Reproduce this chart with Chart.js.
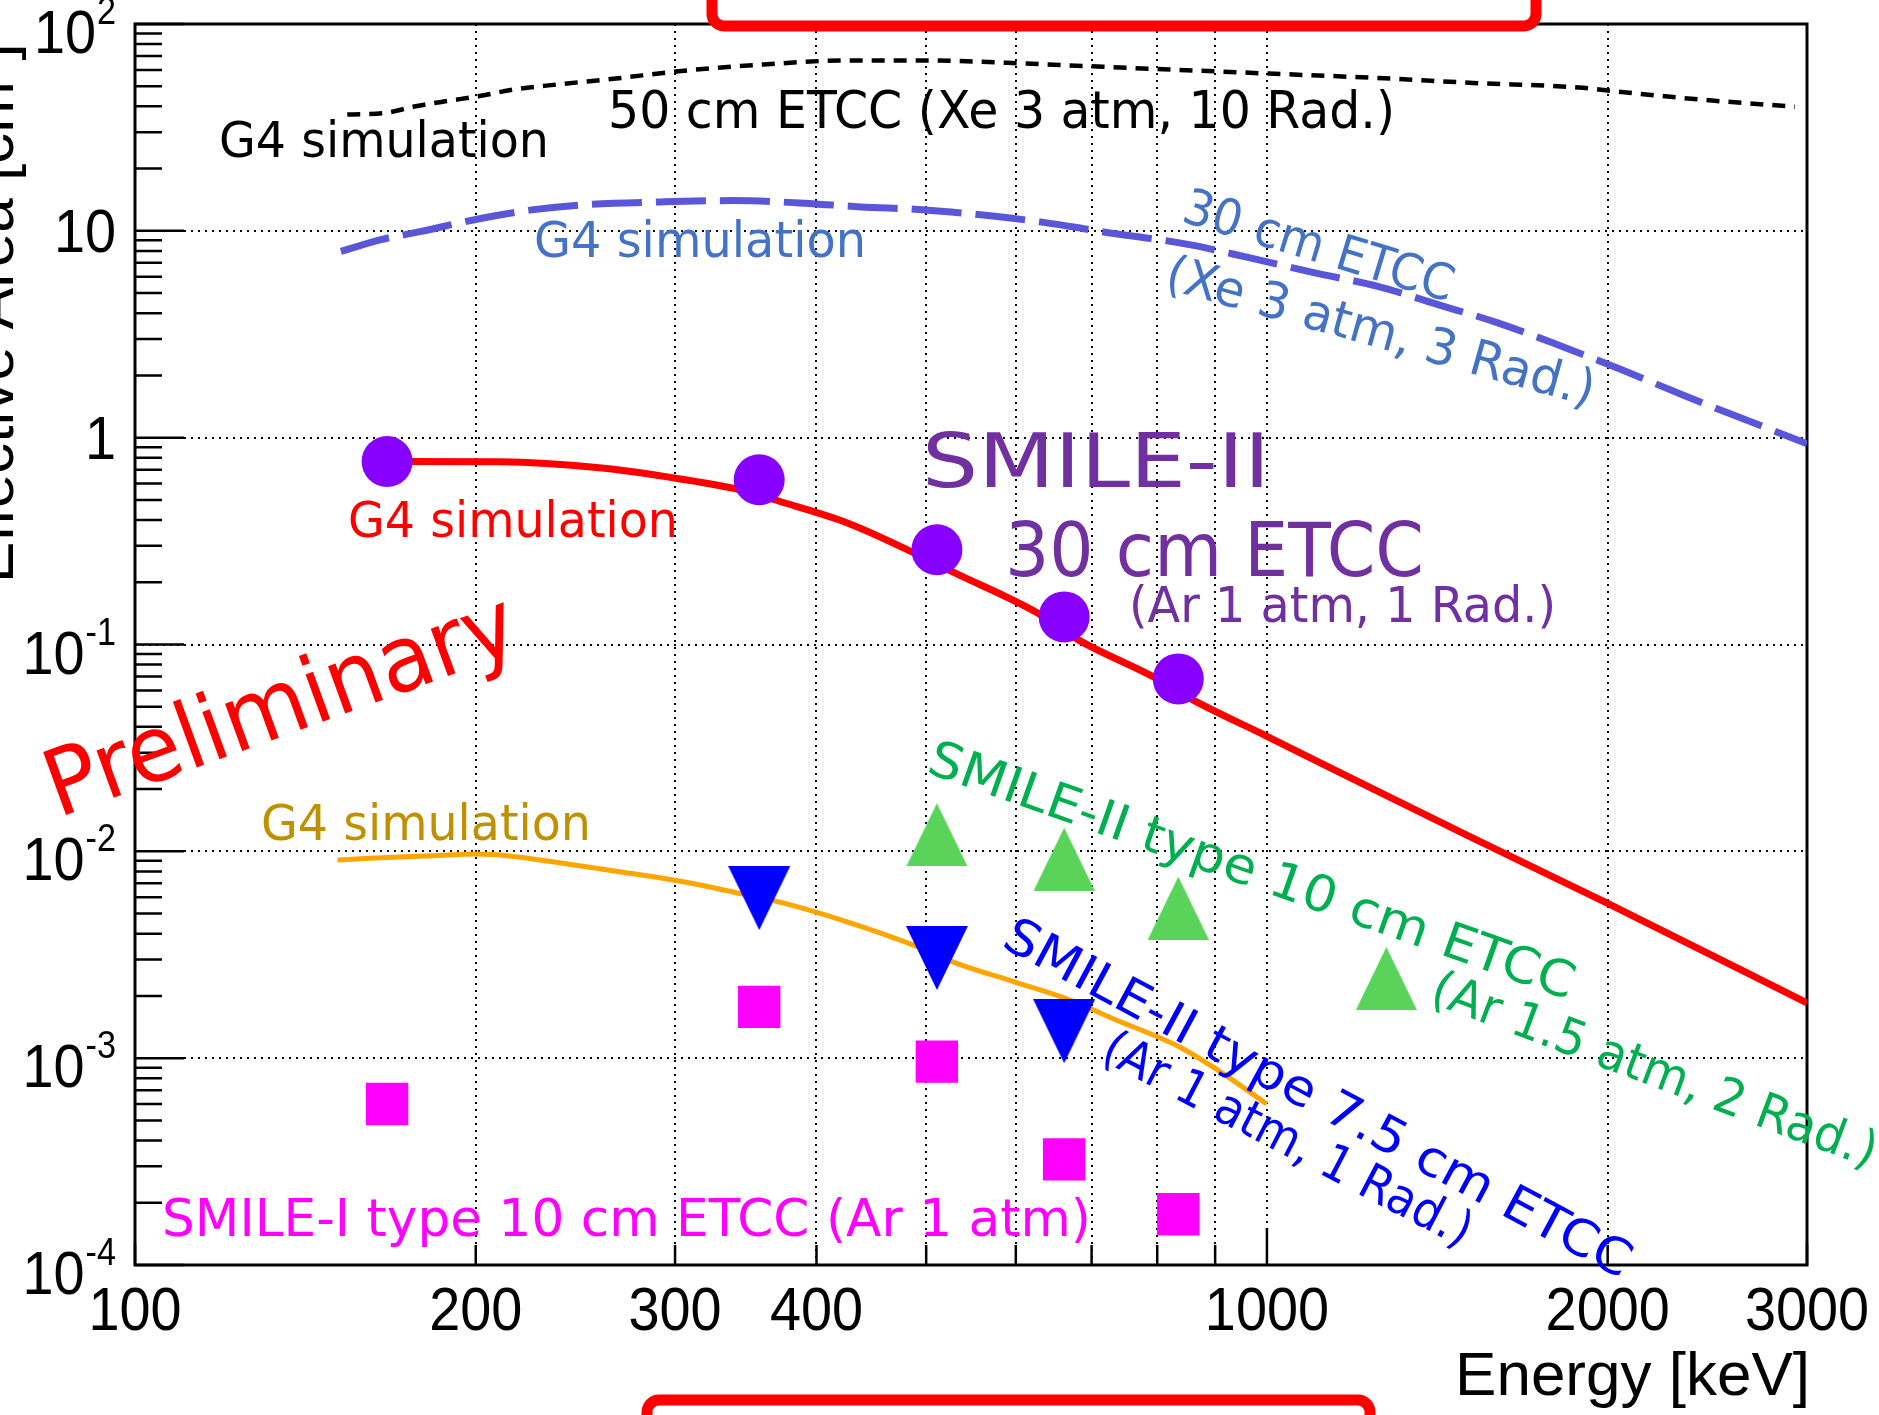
<!DOCTYPE html>
<html lang="en">
<head>
<meta charset="utf-8">
<title>Effective area - ETCC</title>
<script src="https://cdn.jsdelivr.net/npm/chart.js@4.4.1/dist/chart.umd.min.js"></script>
<style>
  html, body { margin: 0; padding: 0; background: #fff; overflow: hidden; }
  canvas { display: block; }
</style>
</head>
<body>
<canvas id="graphique-aire" width="1879" height="1415"></canvas>
<script>
/* global Chart */

// Points mesurés (énergie en keV, aire effective en cm2)
const energiesMesures = [167, 356, 511, 662, 835];
const smile2_30cm = [0.767, 0.626, 0.287, 0.136, 0.0682];
const smile1_10cm = [0.0006, 0.00177, 0.000962, 0.000324, 0.000176];
const energiesType10 = [511, 662, 835, 1275];
const smile2_type10 = [0.01205, 0.00918, 0.00532, 0.00243];
const energiesType75 = [356, 511, 662];
const smile2_type75 = [0.00594, 0.00305, 0.00135];

// Courbes de simulation G4
const simRougeE = [167, 210, 257, 304, 342, 372, 426, 488, 530, 627, 682, 794, 860, 1000, 1500, 2000, 3000];
const simRougeA = [0.767, 0.764, 0.715, 0.63, 0.56, 0.49, 0.387, 0.277, 0.222, 0.142, 0.105, 0.0697, 0.054, 0.036, 0.012, 0.0056, 0.00185];
const simOrangeE = [151, 161, 181, 201, 214, 241, 268, 305, 342, 375, 421, 492, 532, 598, 663, 736, 838, 905, 1000];
const simOrangeA = [0.00908, 0.00925, 0.0095, 0.0097, 0.0095, 0.00868, 0.00796, 0.00713, 0.00626, 0.0056, 0.00465, 0.00345, 0.00287, 0.00234, 0.00195, 0.00153, 0.00113, 0.000875, 0.0006];
const simXe30E = [152, 165, 179, 203, 225, 250, 292, 338, 386, 438, 496, 567, 635, 712, 854, 964, 1100, 1253, 1416, 1597, 1823, 2058, 2345, 2648, 3000];
const simXe30A = [7.96, 9.07, 9.94, 11.54, 12.66, 13.39, 13.8, 14.0, 13.65, 13.05, 12.66, 11.85, 10.99, 9.94, 8.58, 7.42, 6.28, 5.39, 4.4, 3.6, 2.76, 2.13, 1.585, 1.22, 0.935];
const simXe50E = [154, 167, 177, 188, 201, 216, 236, 266, 302, 359, 424, 500, 590, 696, 823, 1004, 1245, 1521, 1886, 2013, 2418, 2927];
const simXe50A = [36.5, 37.3, 40.0, 42.3, 44.7, 48.2, 51.0, 54.5, 59.1, 63.7, 66.6, 66.6, 64.9, 62.5, 60.2, 57.6, 54.9, 51.9, 49.3, 47.5, 43.1, 39.8];

// Graduations
const ticksX = [100, 200, 300, 400, 500, 600, 700, 800, 900, 1000, 2000, 3000];
const labelsX = ["100", "200", "300", "400", "", "", "", "", "", "1000", "2000", "3000"];
const ticksY = [1e-4, 1e-3, 1e-2, 1e-1, 1, 10, 100];
const labelsYBase = ["10", "10", "10", "10", "1", "10", "10"];
const labelsYExp = ["-4", "-3", "-2", "-1", "", "", "2"];

const POLICE_AXE = '"Liberation Sans", Arial, Helvetica, sans-serif';
const POLICE_MAIN = '"Comic Sans MS", "DejaVu Sans", sans-serif';

// Textes ajoutés sur la figure (position en pixels, ligne de base à gauche)
const annotations = [
  { texte: "G4 simulation", x: 219, y: 157, largeur: 330, taille: 50, couleur: "#000000" },
  { texte: "50 cm ETCC (Xe 3 atm, 10 Rad.)", x: 608, y: 128, largeur: 787, taille: 52, couleur: "#000000" },
  { texte: "G4 simulation", x: 534, y: 257, largeur: 332, taille: 50, couleur: "#4472c4" },
  { texte: "30 cm ETCC", x: 1180, y: 221, largeur: 280, taille: 50, couleur: "#4472c4", angle: 16.8 },
  { texte: "(Xe 3 atm, 3 Rad.)", x: 1163, y: 288, largeur: 443, taille: 50, couleur: "#4472c4", angle: 15.5 },
  { texte: "SMILE-II", x: 922, y: 487, largeur: 348, taille: 74, couleur: "#7030a0" },
  { texte: "30 cm ETCC", x: 1005, y: 576, largeur: 419, taille: 74, couleur: "#7030a0" },
  { texte: "(Ar 1 atm, 1 Rad.)", x: 1129, y: 622, largeur: 427, taille: 50, couleur: "#7030a0" },
  { texte: "G4 simulation", x: 348, y: 537, largeur: 330, taille: 50, couleur: "#ff0000" },
  { texte: "Preliminary", x: 58, y: 818, largeur: 495, taille: 92, couleur: "#ff0000", angle: -20 },
  { texte: "G4 simulation", x: 261, y: 840, largeur: 330, taille: 50, couleur: "#bf9000" },
  { texte: "SMILE-II type 10 cm ETCC", x: 925, y: 772, largeur: 682, taille: 50, couleur: "#00b050", angle: 19.5 },
  { texte: "(Ar 1.5 atm, 2 Rad.)", x: 1428, y: 1002, largeur: 472, taille: 50, couleur: "#00b050", angle: 20.6 },
  { texte: "SMILE-II type 7.5 cm ETCC", x: 1000, y: 946, largeur: 704, taille: 50, couleur: "#0000ff", angle: 28.2 },
  { texte: "(Ar 1 atm, 1 Rad.)", x: 1099, y: 1059, largeur: 409, taille: 50, couleur: "#0000ff", angle: 27.5 },
  { texte: "SMILE-I type 10 cm ETCC (Ar 1 atm)", x: 162, y: 1236, largeur: 929, taille: 52, couleur: "#ff00ff" },
];

const points = (xs, ys) => xs.map((v, i) => ({ x: v, y: ys[i] }));

// Marqueurs triangulaires (style ROOT) dessinés dans un petit canvas
function triangle(largeur, hauteur, couleur, versLeBas) {
  const c = document.createElement("canvas");
  c.width = largeur;
  c.height = hauteur;
  const g = c.getContext("2d");
  g.fillStyle = couleur;
  g.beginPath();
  if (versLeBas) {
    g.moveTo(0, 0);
    g.lineTo(largeur, 0);
    g.lineTo(largeur / 2, hauteur);
  } else {
    g.moveTo(largeur / 2, 0);
    g.lineTo(largeur, hauteur);
    g.lineTo(0, hauteur);
  }
  g.closePath();
  g.fill();
  return c;
}
const triangleVert = triangle(61, 63, "#59d35a", false);
const triangleBleu = triangle(62, 64, "#0000ff", true);

function courbe(label, xs, ys, couleur, epaisseur, tirets) {
  return {
    label: label,
    data: points(xs, ys),
    showLine: true,
    borderColor: couleur,
    borderWidth: epaisseur,
    borderDash: tirets,
    pointRadius: 0,
    fill: false,
    cubicInterpolationMode: "monotone",
  };
}

const datasets = [
  {
    label: "SMILE-II 30 cm ETCC (Ar 1 atm, 1 Rad.)",
    data: points(energiesMesures, smile2_30cm),
    pointStyle: "circle",
    pointRadius: 25.5,
    pointBackgroundColor: "#8800ff",
    pointBorderWidth: 0,
    showLine: false,
  },
  {
    label: "SMILE-II type 10 cm ETCC",
    data: points(energiesType10, smile2_type10),
    pointStyle: triangleVert,
    pointRadius: 30,
    pointBorderWidth: 0,
    showLine: false,
  },
  {
    label: "SMILE-II type 7.5 cm ETCC",
    data: points(energiesType75, smile2_type75),
    pointStyle: triangleBleu,
    pointRadius: 30,
    pointBorderWidth: 0,
    showLine: false,
  },
  {
    label: "SMILE-I type 10 cm ETCC",
    data: points(energiesMesures, smile1_10cm),
    pointStyle: "rect",
    pointRadius: 30,
    pointBackgroundColor: "#ff00ff",
    pointBorderWidth: 0,
    showLine: false,
  },
  courbe("G4 30 cm Ar", simRougeE, simRougeA, "#ff0000", 7, []),
  courbe("G4 7.5 cm Ar", simOrangeE, simOrangeA, "#ffa500", 5, []),
  courbe("G4 30 cm Xe", simXe30E, simXe30A, "#5a56d8", 7, [50, 14]),
  courbe("G4 50 cm Xe", simXe50E, simXe50A, "#000000", 4.5, [13, 9]),
];

function ecrire(ctx, a) {
  ctx.save();
  ctx.translate(a.x, a.y);
  if (a.angle) ctx.rotate((a.angle * Math.PI) / 180);
  ctx.font = a.taille + "px " + POLICE_MAIN;
  const w = ctx.measureText(a.texte).width;
  ctx.scale(a.largeur / w, 1);
  ctx.fillStyle = a.couleur;
  ctx.textAlign = "left";
  ctx.textBaseline = "alphabetic";
  ctx.fillText(a.texte, 0, 0);
  ctx.restore();
}

// texte condensé, style des axes ROOT
function texteAxe(ctx, str, x, y, taille, align, sx) {
  ctx.save();
  ctx.translate(x, y);
  ctx.scale(sx, 1);
  ctx.font = taille + "px " + POLICE_AXE;
  ctx.fillStyle = "#000";
  ctx.textAlign = align;
  ctx.textBaseline = "alphabetic";
  ctx.fillText(str, 0, 0);
  ctx.restore();
}

const decor = {
  id: "decor",
  beforeDatasetsDraw(chart) {
    const { ctx, chartArea: a, scales } = chart;
    ctx.save();
    ctx.strokeStyle = "#000";
    ctx.lineWidth = 2.5;
    ctx.beginPath();
    // graduations de l'axe Y (majeures et mineures)
    for (let d = -4; d <= 2; d++) {
      for (let m = 1; m < 10; m++) {
        if (d === 2 && m > 1) break;
        const py = scales.y.getPixelForValue(m * Math.pow(10, d));
        const l = m === 1 ? 49 : 27;
        ctx.moveTo(a.left, py);
        ctx.lineTo(a.left + l, py);
      }
    }
    // graduations de l'axe X
    ticksX.forEach((v) => {
      const px = scales.x.getPixelForValue(v);
      const l = v === 1000 ? 37 : 20;
      ctx.moveTo(px, a.bottom);
      ctx.lineTo(px, a.bottom - l);
    });
    ctx.stroke();
    ctx.lineWidth = 3;
    ctx.strokeRect(a.left, a.top, a.right - a.left, a.bottom - a.top);
    ctx.restore();
  },
  afterDraw(chart) {
    const { ctx, chartArea: a, scales } = chart;

    // étiquettes de l'axe Y avec exposants
    ticksY.forEach((v, i) => {
      const py = scales.y.getPixelForValue(v);
      const exp = labelsYExp[i];
      if (exp) {
        const base = py + 29;
        ctx.font = "38px " + POLICE_AXE;
        const we = ctx.measureText(exp).width * 0.9;
        texteAxe(ctx, exp, 116, base - 29, 38, "right", 0.9);
        texteAxe(ctx, labelsYBase[i], 116 - we - 1, base, 62, "right", 0.9);
      } else {
        texteAxe(ctx, labelsYBase[i], 116, py + 21, 62, "right", 0.9);
      }
    });

    // étiquettes de l'axe X
    ticksX.forEach((v, i) => {
      if (!labelsX[i]) return;
      texteAxe(ctx, labelsX[i], scales.x.getPixelForValue(v), a.bottom + 65, 62, "center", 0.9);
    });

    texteAxe(ctx, "Energy [keV]", 1810, 1395, 62, "right", 1);

    // titre Y (coupé par le bord gauche)
    ctx.save();
    ctx.translate(13, 583);
    ctx.rotate(-Math.PI / 2);
    ctx.font = "62px " + POLICE_AXE;
    ctx.fillStyle = "#000";
    ctx.textAlign = "left";
    ctx.fillText("Effective Area [cm\u00b2]", 0, 0);
    ctx.restore();

    annotations.forEach((an) => ecrire(ctx, an));

    // cadres rouges (hors champ en partie)
    ctx.save();
    ctx.strokeStyle = "#ff0000";
    ctx.lineWidth = 11;
    ctx.beginPath();
    ctx.roundRect(712, -80, 824, 106, 12);
    ctx.stroke();
    ctx.beginPath();
    ctx.roundRect(647, 1400, 723, 80, 12);
    ctx.stroke();
    ctx.restore();
  },
};

const grille = {
  display: true,
  color: "#000",
  lineWidth: 2,
  drawTicks: false,
};

new Chart(document.querySelector("#graphique-aire"), {
  type: "scatter",
  data: { datasets },
  options: {
    responsive: false,
    animation: false,
    devicePixelRatio: 1,
    layout: { autoPadding: false, padding: { left: 135, right: 72, top: 24, bottom: 150 } },
    plugins: { legend: { display: false }, tooltip: { enabled: false } },
    scales: {
      x: {
        type: "logarithmic",
        min: 100,
        max: 3000,
        afterBuildTicks: (axe) => {
          axe.ticks = ticksX.map((v) => ({ value: v }));
        },
        grid: grille,
        border: { display: false, dash: [2, 5] },
        ticks: { display: false },
      },
      y: {
        type: "logarithmic",
        min: 1e-4,
        max: 100,
        afterBuildTicks: (axe) => {
          axe.ticks = ticksY.map((v) => ({ value: v }));
        },
        grid: grille,
        border: { display: false, dash: [2, 5] },
        ticks: { display: false },
      },
    },
  },
  plugins: [decor],
});
</script>
</body>
</html>
